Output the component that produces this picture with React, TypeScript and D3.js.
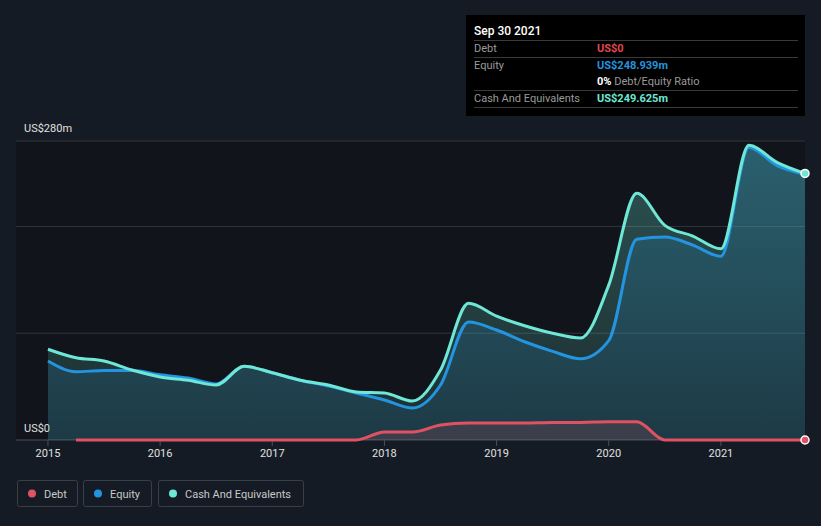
import React, { useEffect, useRef } from "react";
import * as d3 from "d3";

// quarterly points, 2015.0 .. 2021.75 (US$ m)
const cashDates = [
  2015.0, 2015.25, 2015.5, 2015.75, 2016.0, 2016.25, 2016.5, 2016.75, 2017.0, 2017.25,
  2017.5, 2017.75, 2018.0, 2018.25, 2018.5, 2018.75, 2019.0, 2019.25, 2019.5, 2019.75,
  2020.0, 2020.25, 2020.5, 2020.75, 2021.0, 2021.25, 2021.5, 2021.75,
];
const cashValues = [
  85, 77, 74, 65.5, 59, 56, 51.5, 69, 63, 56,
  51.5, 45, 44, 36.5, 65.5, 128, 116, 107, 100, 95.5,
  145, 231, 201, 191, 179, 276, 260, 249.625,
];
const equityValues = [
  74, 64, 65, 65, 61, 58, 52.5, 69, 63, 56,
  50.5, 44, 37.5, 30, 51.5, 110.5, 103, 92, 83, 76,
  93, 188, 190, 182.5, 172, 274, 257, 248.939,
];
const debtDates = [
  2015.25, 2015.5, 2015.75, 2016.0, 2016.25, 2016.5, 2016.75, 2017.0, 2017.25, 2017.5,
  2017.75, 2018.0, 2018.25, 2018.5, 2018.75, 2019.0, 2019.25, 2019.5, 2019.75, 2020.0,
  2020.25, 2020.5, 2020.75, 2021.0, 2021.25, 2021.5, 2021.75,
];
const debtValues = [
  0, 0, 0, 0, 0, 0, 0, 0, 0, 0,
  0, 7.5, 7.5, 14, 16, 16, 16, 16.5, 16.5, 17,
  17, 0, 0, 0, 0, 0, 0,
];
const yearTicks = [2015, 2016, 2017, 2018, 2019, 2020, 2021];
const gridValues = [0, 100, 200, 280];

const W = 821;
const H = 526;
const FONT = "Roboto, 'Noto Sans', sans-serif";

export default function App() {
  const ref = useRef<SVGSVGElement | null>(null);

  useEffect(() => {
    if (!ref.current) return;
    const svg = d3.select(ref.current);
    svg.selectAll("*").remove();

    const left = 16;
    const right = 805;
    const x = d3.scaleLinear().domain([2014.715, 2021.75]).range([left, right]);
    const y = d3.scaleLinear().domain([0, 280]).range([440, 141]);

    svg.append("rect").attr("width", W).attr("height", H).attr("fill", "#151b24");
    svg
      .append("rect")
      .attr("x", left)
      .attr("y", y(280))
      .attr("width", right - left)
      .attr("height", y(0) - y(280))
      .attr("fill", "#11141a");

    const defs = svg.append("defs");
    const grad = (id: string, color: string, a1: number, a2: number) => {
      const g = defs
        .append("linearGradient")
        .attr("id", id)
        .attr("x1", 0)
        .attr("y1", 0)
        .attr("x2", 0)
        .attr("y2", 1)
        .attr("gradientUnits", "userSpaceOnUse")
        .attr("y1", y(280))
        .attr("y2", y(0))
        .attr("x1", 0)
        .attr("x2", 0);
      g.append("stop").attr("offset", "0%").attr("stop-color", color).attr("stop-opacity", a1);
      g.append("stop").attr("offset", "100%").attr("stop-color", color).attr("stop-opacity", a2);
    };
    grad("gCash", "#6ee7d6", 0.3, 0.12);
    grad("gEq", "#2394df", 0.2, 0.12);
    grad("gDebt", "#e05262", 0.25, 0.15);

    // grid
    svg
      .append("g")
      .selectAll("line")
      .data(gridValues)
      .join("line")
      .attr("x1", left)
      .attr("x2", right)
      .attr("y1", (d) => y(d))
      .attr("y2", (d) => y(d))
      .attr("stroke", (d) => (d === 0 ? "#4a4f57" : "#30353d"))
      .attr("stroke-width", 1);

    // x ticks
    const xg = svg.append("g");
    xg.selectAll("line")
      .data(yearTicks)
      .join("line")
      .attr("x1", (d) => x(d))
      .attr("x2", (d) => x(d))
      .attr("y1", y(0))
      .attr("y2", y(0) + 6)
      .attr("stroke", "#4a4f57");
    xg.selectAll("text")
      .data(yearTicks)
      .join("text")
      .attr("x", (d) => x(d))
      .attr("y", 457)
      .attr("text-anchor", "middle")
      .attr("font-family", FONT)
      .attr("font-size", 11)
      .attr("fill", "#e0e0e0")
      .text((d) => String(d));

    svg
      .append("text")
      .attr("x", 24)
      .attr("y", 132)
      .attr("font-family", FONT)
      .attr("font-size", 11)
      .attr("fill", "#e0e0e0")
      .text("US$280m");
    svg
      .append("text")
      .attr("x", 24)
      .attr("y", 432)
      .attr("font-family", FONT)
      .attr("font-size", 11)
      .attr("fill", "#e0e0e0")
      .text("US$0");

    const curve = d3.curveMonotoneX;
    const cash = cashDates.map((d, i) => [d, cashValues[i]] as [number, number]);
    const eq = cashDates.map((d, i) => [d, equityValues[i]] as [number, number]);
    const debt = debtDates.map((d, i) => [d, debtValues[i]] as [number, number]);

    const area = d3
      .area<[number, number]>()
      .x((d) => x(d[0]))
      .y0(y(0))
      .y1((d) => y(d[1]))
      .curve(curve);
    const line = d3
      .line<[number, number]>()
      .x((d) => x(d[0]))
      .y((d) => y(d[1]))
      .curve(curve);

    svg.append("path").attr("d", area(cash)).attr("fill", "url(#gCash)");
    svg.append("path").attr("d", area(eq)).attr("fill", "url(#gEq)");
    svg.append("path").attr("d", area(debt)).attr("fill", "url(#gDebt)");

    const series: [[number, number][], string][] = [
      [debt, "#e05262"],
      [eq, "#2394df"],
      [cash, "#6ee7d6"],
    ];
    series.forEach(([data, color]) => {
      svg
        .append("path")
        .attr("d", line(data))
        .attr("fill", "none")
        .attr("stroke", color)
        .attr("stroke-width", 3);
    });

    // end markers
    svg
      .append("circle")
      .attr("cx", x(2021.75))
      .attr("cy", y(cashValues[cashValues.length - 1]))
      .attr("r", 4)
      .attr("fill", "#6ee7d6")
      .attr("stroke", "#ffffff")
      .attr("stroke-width", 1.5);
    svg
      .append("circle")
      .attr("cx", x(2021.75))
      .attr("cy", y(0))
      .attr("r", 4)
      .attr("fill", "#e05262")
      .attr("stroke", "#ffffff")
      .attr("stroke-width", 1.5);

    // tooltip
    const tt = svg.append("g");
    tt.append("rect").attr("x", 466).attr("y", 15).attr("width", 339).attr("height", 101).attr("fill", "#000000");
    tt.append("text")
      .attr("x", 474)
      .attr("y", 35)
      .attr("font-family", FONT)
      .attr("font-size", 12)
      .attr("font-weight", 500)
      .attr("fill", "#ffffff")
      .text("Sep 30 2021");
    [40, 57, 90, 107].forEach((yy) => {
      tt.append("line")
        .attr("x1", 474)
        .attr("x2", 798)
        .attr("y1", yy + 0.5)
        .attr("y2", yy + 0.5)
        .attr("stroke", "#3a3a3a");
    });
    const rows: [string, string, string, number][] = [
      ["Debt", "US$0", "#e04550", 52],
      ["Equity", "US$248.939m", "#2394df", 69],
      ["Cash And Equivalents", "US$249.625m", "#6ee7d6", 102],
    ];
    rows.forEach(([label, val, color, yy]) => {
      tt.append("text")
        .attr("x", 474)
        .attr("y", yy)
        .attr("font-family", FONT)
        .attr("font-size", 11)
        .attr("fill", "#9a9a9a")
        .text(label);
      tt.append("text")
        .attr("x", 597)
        .attr("y", yy)
        .attr("font-family", FONT)
        .attr("font-size", 11)
        .attr("font-weight", 700)
        .attr("fill", color)
        .text(val);
    });
    const ratio = tt
      .append("text")
      .attr("x", 597)
      .attr("y", 85)
      .attr("font-family", FONT)
      .attr("font-size", 11)
      .attr("fill", "#9a9a9a");
    ratio.append("tspan").attr("font-weight", 700).attr("fill", "#ffffff").text("0%");
    ratio.append("tspan").text(" Debt/Equity Ratio");

    // legend
    const legend: [string, string, number, number][] = [
      ["Debt", "#e05262", 17, 60],
      ["Equity", "#2394df", 83, 68],
      ["Cash And Equivalents", "#6ee7d6", 158, 145],
    ];
    const lg = svg.append("g");
    legend.forEach(([label, color, lx, lw]) => {
      lg.append("rect")
        .attr("x", lx + 0.5)
        .attr("y", 480.5)
        .attr("width", lw)
        .attr("height", 26)
        .attr("rx", 2)
        .attr("fill", "none")
        .attr("stroke", "#3a3f47");
      lg.append("circle").attr("cx", lx + 15).attr("cy", 493.5).attr("r", 4).attr("fill", color);
      lg.append("text")
        .attr("x", lx + 27)
        .attr("y", 497.5)
        .attr("font-family", FONT)
        .attr("font-size", 11)
        .attr("fill", "#c8c8c8")
        .text(label);
    });
  }, []);

  return (
    <svg
      ref={ref}
      width={W}
      height={H}
      style={{ position: "absolute", left: 0, top: 0, display: "block" }}
    />
  );
}
